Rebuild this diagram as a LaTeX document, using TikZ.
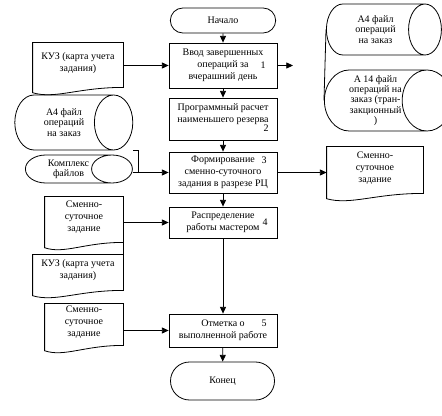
\documentclass[tikz,border=0pt]{standalone}
\usepackage{fontspec}
\setmainfont{Liberation Serif}
\usetikzlibrary{arrows.meta,shapes.geometric,shapes.misc,calc}
\newcommand\docframe[1]{\draw (#1.north west) -- (#1.north east) -- ([yshift=-3pt]#1.south east) .. controls ($(#1.south west)!0.5!(#1.south east)+(0,-3pt)$) and ($(#1.south west)!0.25!(#1.south east)+(0,-12pt)$) .. ([yshift=-7pt]#1.south west) -- cycle;}
\begin{document}
\begin{tikzpicture}[x=0.75pt,y=-0.75pt,line width=0.6pt,
        font=\fontsize{7.5}{9}\selectfont,
        >={Triangle[length=5pt,width=4.5pt]},
        proc/.style={draw,rectangle,minimum width=81pt,align=center,inner sep=1pt},
        term/.style={draw,rounded rectangle,align=center,inner sep=1pt},
        doc/.style={rectangle,align=center,inner sep=1pt},
        store/.style={draw,cylinder,shape border rotate=0,align=center,inner sep=0pt,font=\fontsize{7.5}{7.8}\selectfont},
        num/.style={inner sep=0pt}]
        \useasboundingbox (0,0) rectangle (442,416);
        \node [term,minimum width=81pt,minimum height=18.75pt] (start) at (223,20.5) {Начало};
        \node [proc,minimum height=33.75pt] (box1) at (223,65.5) {Ввод завершенных\\операций за\\вчерашний день};
        \node [proc,minimum height=31.5pt] (box2) at (223,119) {Программный расчет\\наименьшего резерва\\\mbox{}};
        \node [proc,minimum height=30.75pt] (box3) at (223,172.5) {Формирование\\сменно-суточного\\задания в разрезе РЦ};
        \node [proc,minimum height=23.25pt] (box4) at (223,222.5) {Распределение\\работы мастером};
        \node [proc,minimum height=24.75pt] (box5) at (223,330.5) {Отметка о\\выполненной работе};
        \node [term,minimum width=80pt,minimum height=28.5pt] (end) at (222.5,381) {Конец};
        \node [num] (n1) at (263,65) {1};
        \node [num] (n2) at (266,128) {2};
        \node [num] (n3) at (264,160) {3};
        \node [num] (n4) at (265,222) {4};
        \node [num] (n5) at (264,323) {5};
        \node [doc,minimum width=67.5pt,minimum height=30pt] (kuz1) at (78,63) {КУЗ (карта учета\\задания)};
        \node [doc,minimum width=58.5pt,minimum height=30.75pt] (sm1) at (84,217.5) {Сменно-\\суточное\\задание};
        \node [doc,minimum width=67.5pt,minimum height=23.25pt] (kuz2) at (78,270.5) {КУЗ (карта учета\\задания)};
        \node [doc,minimum width=58.5pt,minimum height=27.75pt] (sm2) at (84,322.5) {Сменно-\\суточное\\задание};
        \node [doc,minimum width=72pt,minimum height=31.5pt] (sm0) at (375,168) {Сменно-\\суточное\\задание};
        \docframe{kuz1}
        \docframe{sm1}
        \docframe{kuz2}
        \docframe{sm2}
        \docframe{sm0}
        \node [store,minimum height=86.25pt,minimum width=38.25pt,aspect=1.18] (a4r) at (375.5,29.5) {А4 файл\\операций\\на заказ};
        \node [store,minimum height=86.25pt,minimum width=45.75pt,aspect=0.98] (a14) at (375.5,100.5) {А 14 файл\\операций на\\заказ (тран-\\закционный\\)};
        \node [store,minimum height=88.5pt,minimum width=41.25pt,aspect=1.38] (a4l) at (64,122.5) {А4 файл\\операций\\на заказ};
        \node [store,minimum height=80.25pt,minimum width=21pt,aspect=2.14] (kompl) at (68.5,169) {Комплекс\\файлов};
        \coordinate (out1) at (293,65.5);
        \coordinate (j3) at (138,172.5);
        \draw [->] (start) -- (box1);
        \draw [->] (box1) -- (box2);
        \draw [->] (box2) -- (box3);
        \draw [->] (box3) -- (box4);
        \draw [->] (box4) -- (box5);
        \draw [->] (box5) -- (end);
        \draw [->] (kuz1.east |- box1.west) -- (box1.west);
        \draw [->] (box1.east) -- (out1);
        \draw (a4r.west) -- (a14.west);
        \draw (a4l.east |- a4l.south) -| (j3);
        \draw [->] (kompl.east |- box3.west) -- (box3.west);
        \draw [->] (box3.east) -- (sm0.west |- box3.east);
        \draw [->] (sm1.east |- box4.west) -- (box4.west);
        \draw (kuz2.north east) -- (sm1.east |- box4.west);
        \draw [->] (sm2.east |- box5.west) -- (box5.west);
    \end{tikzpicture}
\end{document}
